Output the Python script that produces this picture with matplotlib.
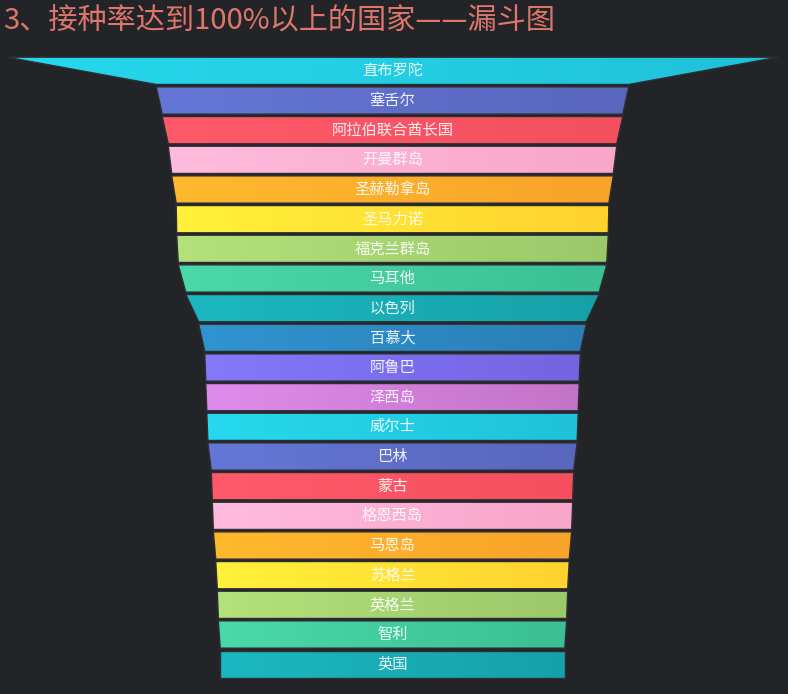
import numpy as np
import matplotlib
matplotlib.use('Agg')
import matplotlib.pyplot as plt
from matplotlib.patches import Polygon
from matplotlib.colors import to_rgb

plt.rcParams['font.family'] = ['Noto Sans CJK SC', 'DejaVu Sans']

title = '3、接种率达到100%以上的国家——漏斗图'

countries = ['直布罗陀', '塞舌尔', '阿拉伯联合酋长国', '开曼群岛', '圣赫勒拿岛', '圣马力诺',
             '福克兰群岛', '马耳他', '以色列', '百慕大', '阿鲁巴', '泽西岛', '威尔士', '巴林',
             '蒙古', '格恩西岛', '马恩岛', '苏格兰', '英格兰', '智利', '英国']
# vaccination rate (%)
rates = [224.0, 137.3, 133.8, 130.3, 128.3, 125.7, 125.4, 124.5, 120.1, 112.6, 109.1,
         108.5, 107.9, 107.3, 105.3, 104.7, 104.1, 102.7, 101.8, 101.2, 100.1]

# gradient palette (left -> right), cycled over the pieces
left_colors = ['#26d9ee', '#6577d6', '#ff5a6b', '#ffbbdd', '#ffb92d', '#fff13b',
               '#b3e17b', '#4bd9a9', '#1cb8c1', '#3094d1', '#8379fa', '#df8bec']
right_colors = ['#1fc2d8', '#5866bc', '#f44f5e', '#f8a6ca', '#f8a32a', '#ffd22e',
                '#9bc869', '#3bbf93', '#16a1a9', '#2a7eb5', '#7464e1', '#c373c7']

bg = '#232428'
fig = plt.figure(figsize=(7.88, 6.94), dpi=100, facecolor=bg)
ax = fig.add_axes([7 / 788, (694 - 678 - 1) / 694, 771 / 788, (621 + 2) / 694])
ax.set_facecolor(bg)
ax.axis('off')

vmax = max(rates)
n = len(rates)
gap = 0.08
for i, (name, v) in enumerate(zip(countries, rates)):
    v_next = rates[i + 1] if i + 1 < n else v
    y0 = i + gap / 2
    y1 = i + 1 - gap / 2
    pts = [(-v / 2, y0), (v / 2, y0), (v_next / 2, y1), (-v_next / 2, y1)]
    poly = Polygon(pts, closed=True, facecolor='none', edgecolor='#2e2e33',
                   linewidth=1.0, zorder=3)
    ax.add_patch(poly)
    c0 = np.array(to_rgb(left_colors[i % 12]))
    c1 = np.array(to_rgb(right_colors[i % 12]))
    t = np.linspace(0, 1, 256)[None, :, None]
    grad = np.repeat(c0 + (c1 - c0) * t, 2, axis=0)
    w = max(v, v_next)
    im = ax.imshow(grad, extent=(-w / 2, w / 2, y1, y0), aspect='auto',
                   interpolation='bilinear', zorder=2)
    im.set_clip_path(poly)
    ax.text(0, i + 0.5, name, ha='center', va='center', color='white', alpha=0.9,
            fontsize=11, zorder=4)

ax.set_xlim(-vmax / 2, vmax / 2)
ax.set_ylim(n, 0)

fig.text(3 / 788, 1 - 21 / 694, title, color='#de766b', fontsize=21,
         ha='left', va='center')

fig.savefig('out.png', dpi=100, facecolor=bg)
